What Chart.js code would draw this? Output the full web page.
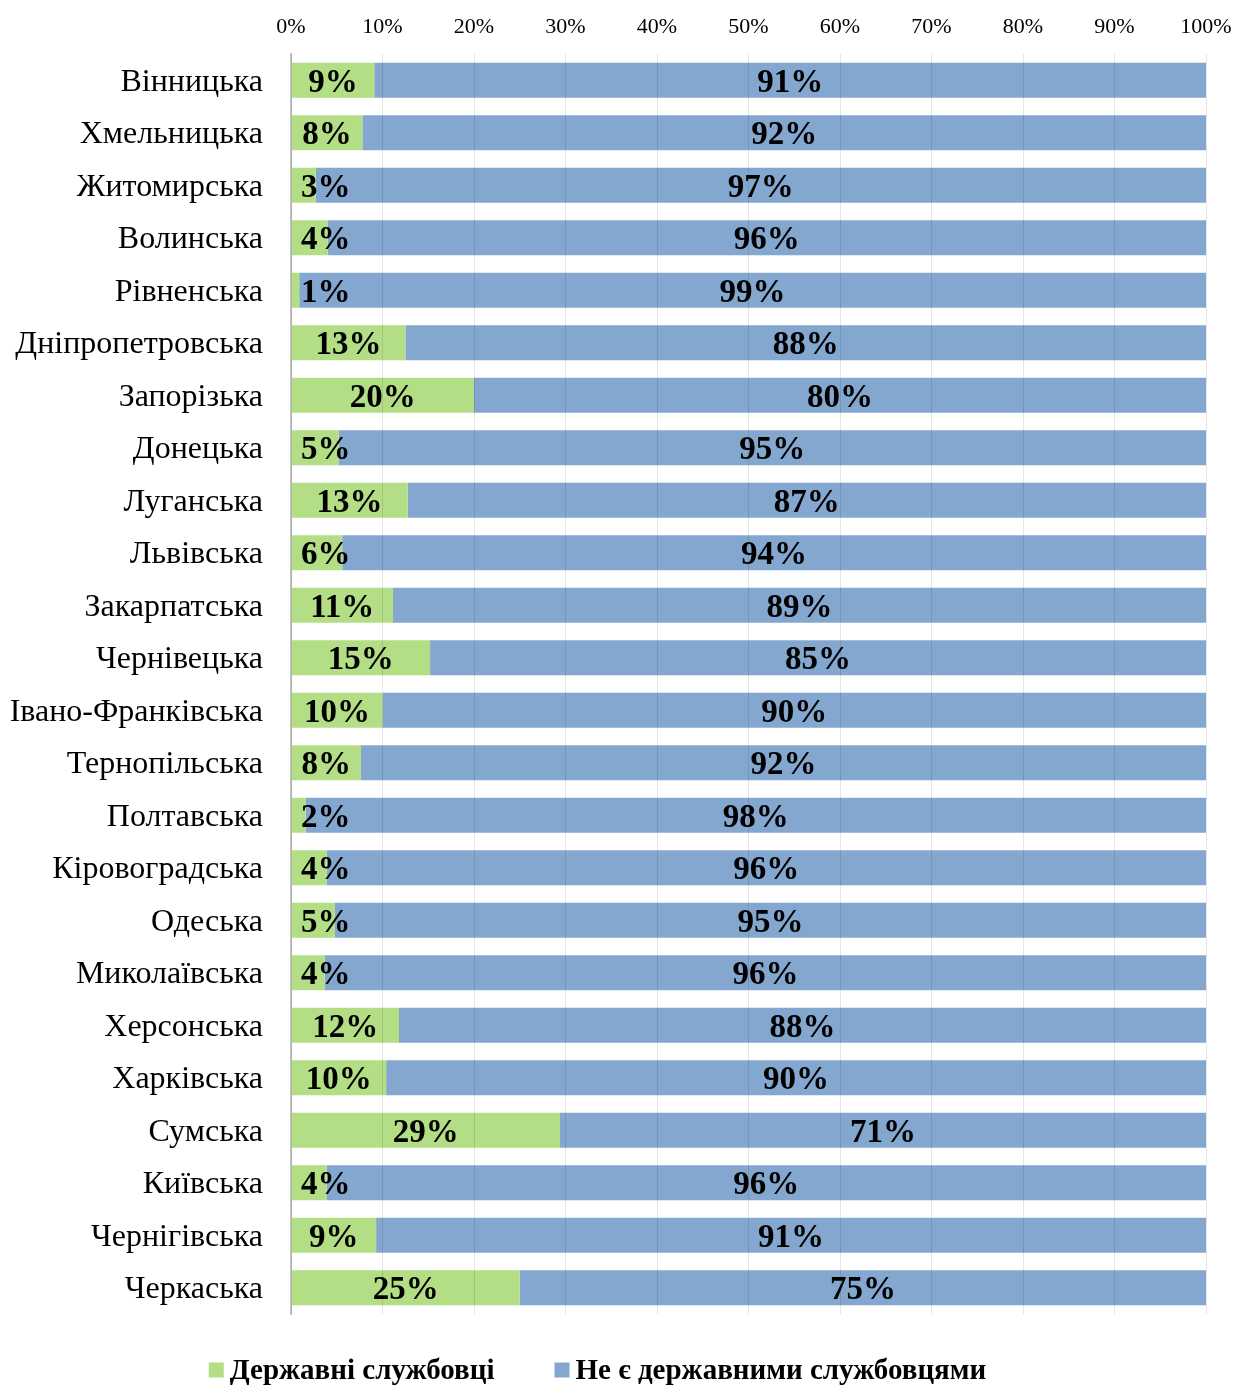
<!DOCTYPE html>
<html><head><meta charset="utf-8">
<script src="https://cdn.jsdelivr.net/npm/chart.js@4"></script>
<style>html,body{margin:0;padding:0;background:#fff}canvas{display:block}</style>
</head><body>
<canvas id="c" width="1235" height="1386"></canvas>
<script>
const regions = ["Вінницька","Хмельницька","Житомирська","Волинська","Рівненська","Дніпропетровська","Запорізька","Донецька","Луганська","Львівська","Закарпатська","Чернівецька","Івано-Франківська","Тернопільська","Полтавська","Кіровоградська","Одеська","Миколаївська","Херсонська","Харківська","Сумська","Київська","Чернігівська","Черкаська"];
const civilServants = [9.1,7.8,2.7,4.0,0.9,12.5,20.0,5.2,12.75,5.6,11.15,15.2,10.0,7.65,1.6,3.9,4.8,3.7,11.8,10.4,29.4,3.9,9.3,25.0];
const nonCivilServants = [90.9,92.2,97.3,96.0,99.1,87.5,80.0,94.8,87.25,94.4,88.85,84.8,90.0,92.35,98.4,96.1,95.2,96.3,88.2,89.6,70.6,96.1,90.7,75.0];
const seriesNames = ["Державні службовці","Не є державними службовцями"];
const xTicks = [0,10,20,30,40,50,60,70,80,90,100];

const SERIF = '"Liberation Serif","Times New Roman",serif';

const labelPlugin = {
  id: 'barLabels',
  afterDatasetsDraw(chart) {
    const ctx = chart.ctx;
    const left = chart.chartArea.left;
    ctx.save();
    ctx.font = 'bold 33px ' + SERIF;
    ctx.fillStyle = '#000';
    ctx.textAlign = 'center';
    ctx.textBaseline = 'middle';
    chart.data.datasets.forEach((ds, di) => {
      const meta = chart.getDatasetMeta(di);
      meta.data.forEach((el, i) => {
        const txt = Math.round(ds.data[i]) + '%';
        const w = ctx.measureText(txt).width;
        let cx = (el.base + el.x) / 2;
        if (cx - w / 2 < left + 10) cx = left + 10 + w / 2;
        ctx.fillText(txt, cx, el.y + 3);
      });
    });
    ctx.restore();
  }
};

const legendPlugin = {
  id: 'customLegend',
  afterDraw(chart) {
    const ctx = chart.ctx;
    ctx.save();
    ctx.font = 'bold 29px ' + SERIF;
    ctx.textBaseline = 'middle';
    ctx.textAlign = 'left';
    const box = 15, gapBox = 6, gapItem = 60;
    const items = chart.data.datasets.map(d => ({text: d.label, color: d.backgroundColor}));
    let total = 0;
    items.forEach((it, i) => { it.w = ctx.measureText(it.text).width; total += box + gapBox + it.w + (i ? gapItem : 0); });
    let x = 597.5 - total / 2;
    const y = 1370;
    items.forEach((it, i) => {
      if (i) x += gapItem;
      ctx.fillStyle = it.color;
      ctx.fillRect(x, y - box / 2, box, box);
      x += box + gapBox;
      ctx.fillStyle = '#000';
      ctx.fillText(it.text, x, y + 2);
      x += it.w;
    });
    ctx.restore();
  }
};

new Chart(document.getElementById('c'), {
  type: 'bar',
  data: {
    labels: regions,
    datasets: [
      {label: seriesNames[0], data: civilServants, backgroundColor: '#b3de85', borderWidth: 0},
      {label: seriesNames[1], data: nonCivilServants, backgroundColor: '#84a7cf', borderWidth: 0}
    ]
  },
  options: {
    indexAxis: 'y',
    responsive: false,
    animation: false,
    devicePixelRatio: 1,
    layout: {padding: {top: 0, right: 0, bottom: 72, left: 0}},
    datasets: {bar: {barPercentage: 0.667, categoryPercentage: 1.0}},
    plugins: {legend: {display: false}, tooltip: {enabled: false}},
    scales: {
      x: {
        position: 'top',
        stacked: true,
        min: 0, max: 100,
        afterBuildTicks(scale) { scale.ticks = xTicks.map(v => ({value: v})); },
        afterFit(scale) { scale.height = 54; scale.paddingRight = 29; scale.paddingLeft = 0; },
        ticks: {
          callback: v => v + '%',
          font: {family: SERIF, size: 22},
          color: '#000',
          padding: 14,
          maxRotation: 0
        },
        grid: {color: 'rgba(0,0,0,0.10)', lineWidth: 1, drawTicks: false, z: 1},
        border: {display: false}
      },
      y: {
        stacked: true,
        afterFit(scale) { scale.width = 291; },
        ticks: {
          font: {family: SERIF, size: 32},
          color: '#000',
          padding: 28,
          labelOffset: 2
        },
        grid: {display: false, drawTicks: false},
        border: {display: true, color: '#c4c4c4', width: 2}
      }
    }
  },
  plugins: [labelPlugin, legendPlugin]
});
</script>
</body></html>
